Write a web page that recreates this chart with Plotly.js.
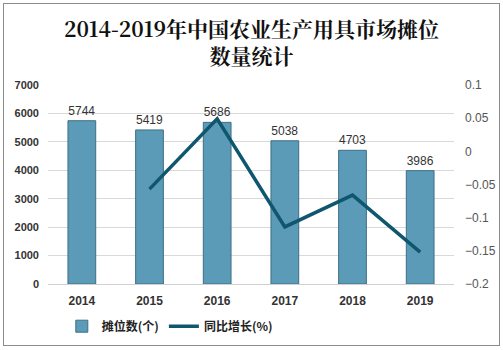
<!DOCTYPE html>
<html><head><meta charset="utf-8">
<script src="https://cdn.plot.ly/plotly-3.0.1.min.js"></script>
<style>
html,body{margin:0;padding:0;background:#fff;}
#chart{position:absolute;left:0;top:0;width:503px;height:350px;}
#frame{position:absolute;left:3px;top:3px;width:495px;height:341px;border:1px solid #8c8c8c;pointer-events:none;}
</style></head><body>
<div id="chart"></div><div id="frame"></div>
<script>
const years = ['2014','2015','2016','2017','2018','2019'];
const stalls = [5744, 5419, 5686, 5038, 4703, 3986];
const growthYears = ['2015','2016','2017','2018','2019'];
const growth = [-0.057, 0.049, -0.114, -0.066, -0.152];
const leftTicks = [0,1000,2000,3000,4000,5000,6000,7000];
const rightTicks = [-0.2,-0.15,-0.1,-0.05,0,0.05,0.1];

const traces = [
 {type:'bar', x:years, y:stalls, name:'<b>摊位数(个)</b>', width:0.41,
  marker:{color:'#5b9bb8', line:{color:'#3d6f85', width:1}},
  text:stalls.map(String), textposition:'outside', cliponaxis:false,
  textfont:{family:'Liberation Sans, Arial', size:12, color:'#333'}},
 {type:'scatter', mode:'lines', x:growthYears, y:growth, yaxis:'y2', name:'<b>同比增长(%)</b>',
  line:{color:'#0f566e', width:3.5}}
];
const layout = {
 width:503, height:350, margin:{l:48,r:49,t:85,b:66, autoexpand:false},
 paper_bgcolor:'#fff', plot_bgcolor:'#fff',
 title:{text:'<b>2014-2019年中国农业生产用具市场摊位<br>数量统计</b>', x:0.5, xanchor:'center', y:0.894, yanchor:'middle',
   font:{family:'Noto Serif CJK SC, Noto Sans CJK SC', size:21, color:'#111'}},
 showlegend:true,
 legend:{orientation:'h', x:0.30, xanchor:'center', yref:'container', y:0.068, yanchor:'middle',
   font:{family:'Noto Sans CJK SC', size:12, color:'#222'}, itemwidth:30, tracegroupgap:0},
 bargap:0.59,
 xaxis:{type:'category', automargin:false, tickfont:{family:'Liberation Sans, Arial', size:12, color:'#333', weight:'bold'},
   showline:true, linecolor:'#d0d0d0', ticks:'', showgrid:false, ticklabelstandoff:6},
 yaxis:{range:[0,7000], automargin:false, tickvals:leftTicks, showgrid:true, gridcolor:'#d9d9d9', zeroline:false,
   tickfont:{family:'Liberation Sans, Arial', size:11, color:'#333', weight:'bold'}, ticklabelstandoff:8},
 yaxis2:{overlaying:'y', side:'right', automargin:false, range:[-0.2,0.1], tickvals:rightTicks, showgrid:false, zeroline:false,
   tickfont:{family:'Liberation Sans, Arial', size:12, color:'#555'}, ticklabelstandoff:10}
};
Plotly.newPlot('chart', traces, layout, {displayModeBar:false, staticPlot:true});
</script></body></html>
